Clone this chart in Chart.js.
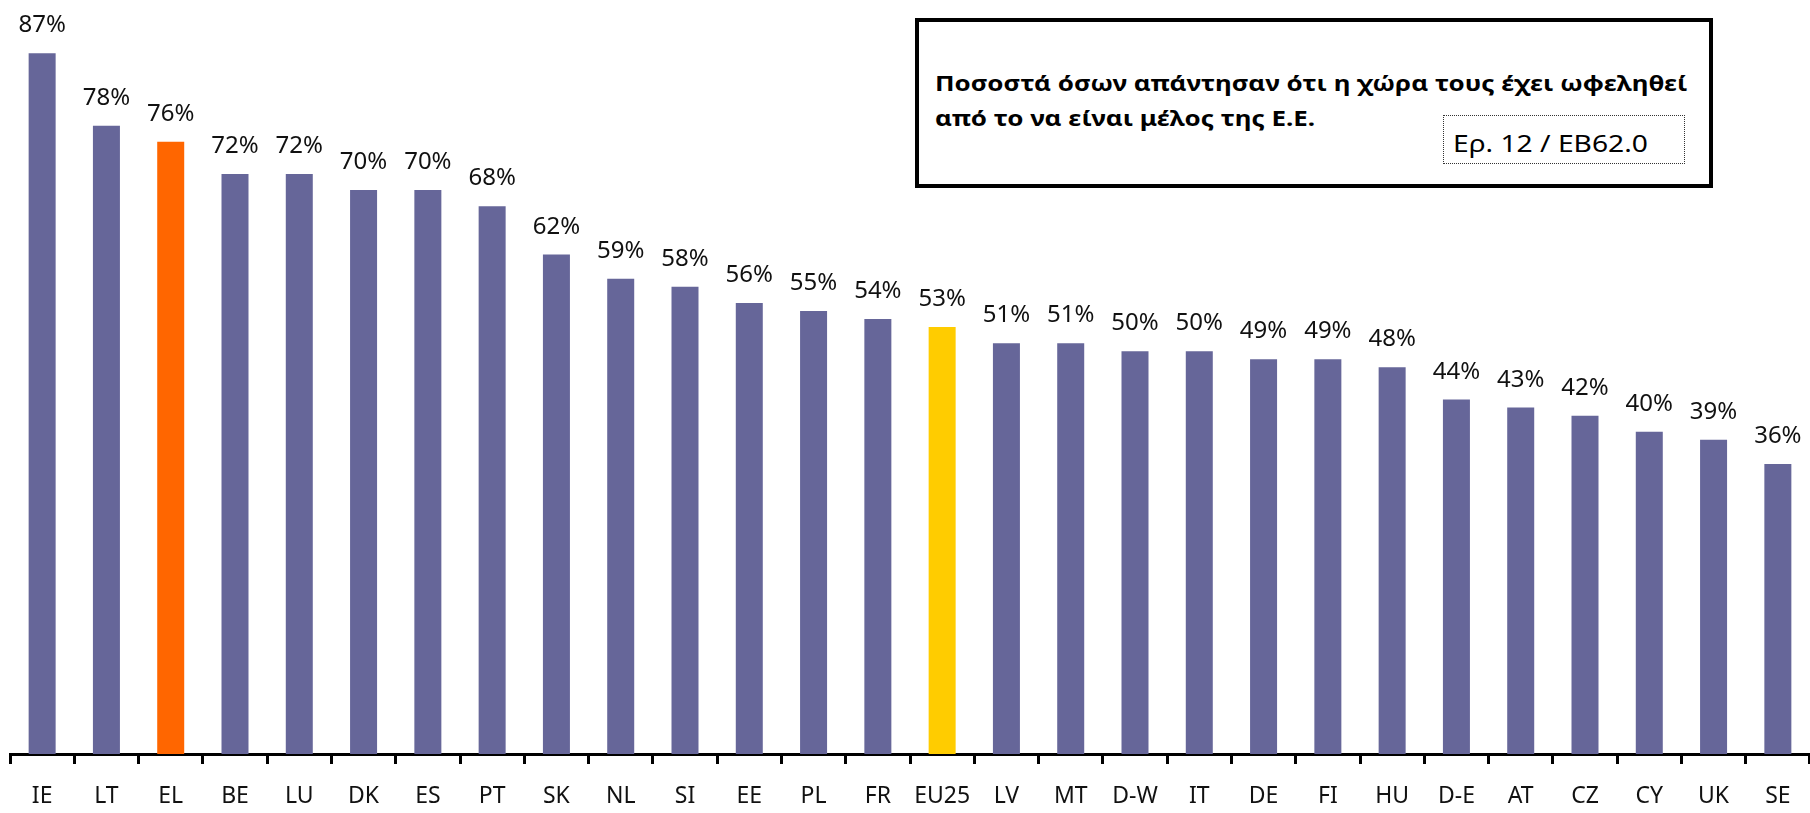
<!DOCTYPE html>
<html lang="el">
<head>
<meta charset="utf-8">
<title>Οφέλη από τη συμμετοχή στην Ε.Ε.</title>
<script src="https://cdn.jsdelivr.net/npm/chart.js@4.4.1/dist/chart.umd.min.js"></script>
<style>
  body { margin: 0; background: #fff; }
  #wrap { position: relative; width: 1810px; height: 813px; }
  #titleBox {
    position: absolute; left: 915px; top: 18px; width: 790px; height: 162px;
    border: 4px solid #000; background: #fff;
    font-family: "Noto Sans", sans-serif; color: #000;
  }
  .tline {
    position: absolute; left: 16px; white-space: nowrap;
    font-weight: bold; font-size: 22px; line-height: 22px; transform-origin: left top;
  }
  #source {
    position: absolute; left: 524px; top: 93px; width: 240px; height: 47px;
    border: 1px dotted #333;
  }
  #source span {
    position: absolute; left: 9px; top: 15px; white-space: nowrap;
    font-size: 24px; line-height: 24px; transform-origin: left top;
  }
</style>
</head>
<body>
<div id="wrap">
  <canvas id="chart" width="1810" height="813"></canvas>
  <div id="titleBox">
    <div class="tline" id="t1" style="top:49px">Ποσοστά όσων απάντησαν ότι η χώρα τους έχει ωφεληθεί</div>
    <div class="tline" id="t2" style="top:84px">από το να είναι μέλος της Ε.Ε.</div>
    <div id="source"><span id="src">Ερ. 12 / EB62.0</span></div>
  </div>
</div>
<script>
// ----------------------------
// Daten
// ----------------------------
const countries = ['IE','LT','EL','BE','LU','DK','ES','PT','SK','NL','SI','EE','PL','FR','EU25',
                   'LV','MT','D-W','IT','DE','FI','HU','D-E','AT','CZ','CY','UK','SE'];
const benefited = [87, 78, 76, 72, 72, 70, 70, 68, 62, 59, 58, 56, 55, 54, 53,
                   51, 51, 50, 50, 49, 49, 48, 44, 43, 42, 40, 39, 36];

const PURPLE = '#666699';
const ORANGE = '#FF6600';
const YELLOW = '#FFCC00';

const barColors = countries.map(c => c === 'EL' ? ORANGE : (c === 'EU25' ? YELLOW : PURPLE));

// Prozent-Labels über den Balken
const valueLabels = {
  id: 'valueLabels',
  afterDatasetsDraw(chart) {
    const ctx = chart.ctx;
    const meta = chart.getDatasetMeta(0);
    ctx.save();
    ctx.font = '24px "Noto Sans", sans-serif';
    ctx.fillStyle = '#111';
    ctx.textAlign = 'center';
    ctx.textBaseline = 'alphabetic';
    meta.data.forEach((bar, i) => {
      ctx.fillText(benefited[i] + '%', bar.x, bar.y - 21);
    });
    ctx.restore();
  }
};

new Chart(document.getElementById('chart'), {
  type: 'bar',
  data: {
    labels: countries,
    datasets: [{
      data: benefited,
      backgroundColor: barColors,
      borderWidth: 0,
      categoryPercentage: 1.0,
      barPercentage: 0.42
    }]
  },
  options: {
    responsive: false,
    animation: false,
    layout: { padding: { left: 10, right: 0, top: 0, bottom: 0 } },
    plugins: {
      legend: { display: false },
      title: { display: false },
      tooltip: { enabled: false }
    },
    scales: {
      y: { display: false, min: 0, max: 93.6 },
      x: {
        afterFit: (scale) => { scale.height = 59; },
        grid: {
          offset: true,
          drawOnChartArea: false,
          drawTicks: true,
          tickLength: 10,
          color: '#000',
          lineWidth: 3
        },
        border: { display: true, color: '#000', width: 3 },
        ticks: {
          padding: 19,
          color: '#111',
          font: { family: '"Noto Sans", sans-serif', size: 23 },
          maxRotation: 0,
          autoSkip: false
        }
      }
    }
  },
  plugins: [valueLabels]
});

// Titelzeilen und Quelle auf Breite der Vorlage stauchen
const t1 = document.getElementById('t1');
const s = 753 / t1.scrollWidth;
t1.style.transform = 'scaleX(' + s + ')';
document.getElementById('t2').style.transform = 'scaleX(' + s + ')';
const src = document.getElementById('src');
src.style.transform = 'scaleX(' + (195 / src.scrollWidth) + ')';
</script>
</body>
</html>
